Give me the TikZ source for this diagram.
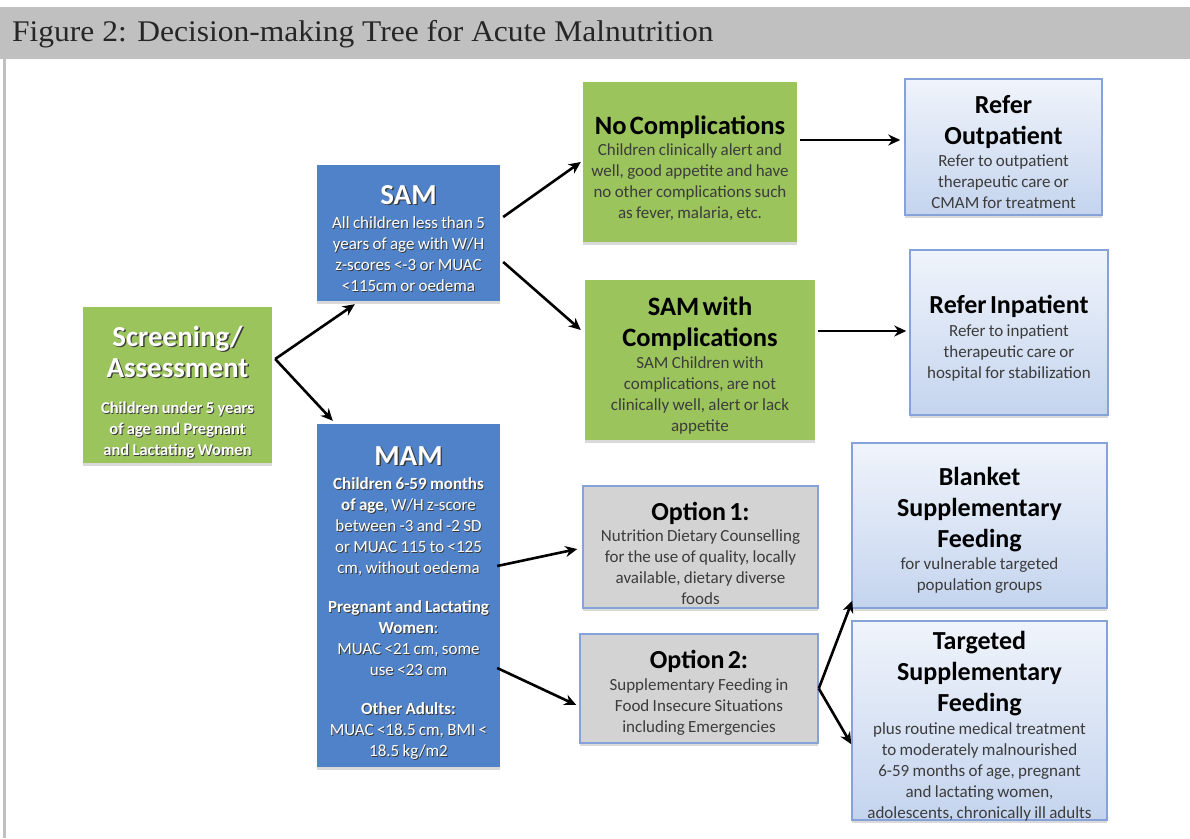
\documentclass[tikz,border=0pt]{standalone}
\usepackage{fontspec}
\usepackage{graphicx}
\setmainfont{Carlito}
\newfontfamily\titlefont{Liberation Serif}
\usetikzlibrary{arrows.meta,shadows,calc}
\definecolor{hdrgray}{HTML}{C0C0C0}
\definecolor{gboxc}{HTML}{9CC45D}
\definecolor{bboxc}{HTML}{4F82C8}
\definecolor{lbtop}{HTML}{F0F4FB}
\definecolor{lbbot}{HTML}{C4D4EE}
\definecolor{lbedge}{HTML}{86A2D8}
\definecolor{optfill}{HTML}{D3D3D3}
\definecolor{darktxt}{HTML}{3C3C3C}
\definecolor{shadc}{HTML}{3A3A3A}
\newcommand\HdF[1]{\fontsize{#1}{31}\selectfont\bfseries}
\newcommand\BdF{\fontsize{17}{21}\selectfont}
% negative space at the end of a node text moves the text down by half of it
\newcommand\LowerBy[1]{\par\vspace{-#1}}
% white text with a soft dark shadow
\newcommand\sh[1]{\leavevmode\rlap{\kern0.9pt\raisebox{-0.9pt}{\textcolor{shadc}{#1}}}#1}
\newcommand\shb[1]{\leavevmode\rlap{\kern1.4pt\raisebox{-1.4pt}{\textcolor{shadc}{#1}}}#1}
\tikzset{
  basebox/.style={inner sep=0pt, align=center,
    drop shadow={shadow xshift=0pt, shadow yshift=-3pt, opacity=0.15, fill=black}},
  greenbox/.style={basebox, fill=gboxc, text=white},
  bluebox/.style={basebox, fill=bboxc, text=white},
  lightbox/.style={basebox, draw=lbedge, line width=1.5pt, top color=lbtop, bottom color=lbbot, text=black},
  optbox/.style={basebox, draw=lbedge, line width=1.5pt, fill=optfill, text=black},
  flow/.style={-{Stealth[length=12pt,width=11pt]}, line width=2.6pt, black},
}
\begin{document}
\begin{tikzpicture}[x=1pt,y=-1pt]
\useasboundingbox (0,0) rectangle (1190,838);
\fill[white] (0,0) rectangle (1190,838);
\fill[hdrgray] (0,7) rectangle (1190,59);
\fill[hdrgray] (3,59) rectangle (6,838);
\node[anchor=base west, inner sep=0pt, text=black!85, font=\titlefont\fontsize{30}{30}\selectfont] (title) at (12,41) {\scalebox{1.05}[1]{Figure 2: Decision-making Tree for Acute Malnutrition}};

\node[greenbox, minimum width=189pt, minimum height=156pt, text width=187pt] (scr) at (177.5,385)
  {{\HdF{29}\shb{Screening/}\\\shb{Assessment}\par}\vspace{15pt}{\fontsize{16.5}{21}\selectfont\bfseries \sh{Children under 5 years}\\\sh{of age and Pregnant}\\\sh{and Lactating Women}\par}\LowerBy{15pt}};

\node[bluebox, minimum width=183pt, minimum height=136pt, text width=181pt] (sam) at (408.5,233)
  {{\HdF{29}\shb{SAM}\par}\vspace{3pt}{\BdF \sh{All children less than 5}\\\sh{years of age with W/H}\\\sh{z-scores <-3 or MUAC}\\\sh{<115cm or oedema}\par}\LowerBy{12pt}};

\node[bluebox, minimum width=183pt, minimum height=343pt, text width=181pt] (mam) at (408.5,595.5)
  {{\HdF{29}\shb{MAM}\par}\vspace{3pt}{\BdF \sh{\textbf{Children 6-59 months}}\\\sh{\textbf{of age}, W/H z-score}\\\sh{between -3 and -2 SD}\\\sh{or MUAC 115 to <125}\\\sh{cm, without oedema}\\[18pt]\sh{\textbf{Pregnant and Lactating}}\\\sh{\textbf{Women}:}\\\sh{MUAC <21 cm, some}\\\sh{use <23 cm}\\[18pt]\sh{\textbf{Other Adults:}}\\\sh{MUAC <18.5 cm, BMI <}\\\sh{18.5 kg/m2}\par}\LowerBy{16pt}};

\node[greenbox, text=black, minimum width=214pt, minimum height=160pt, text width=212pt] (nocomp) at (690,162)
  {{\HdF{26.5}No Complications\par}{\BdF\color{darktxt}Children clinically alert and\\well, good appetite and have\\no other complications such\\as fever, malaria, etc.\par}\LowerBy{12pt}};

\node[greenbox, text=black, minimum width=230pt, minimum height=160pt, text width=228pt] (samc) at (700,360)
  {{\HdF{26.5}SAM with\\Complications\par}\vspace{1pt}{\BdF\color{darktxt}SAM Children with\\complications, are not\\clinically well, alert or lack\\appetite\par}\LowerBy{12pt}};

\node[lightbox, minimum width=197pt, minimum height=136pt, text width=195pt] (refout) at (1003.5,147)
  {{\HdF{26}Refer\\Outpatient\par}\vspace{1pt}{\BdF\color{darktxt}Refer to outpatient\\therapeutic care or\\CMAM for treatment\par}\LowerBy{10pt}};

\node[lightbox, minimum width=198pt, minimum height=165pt, text width=196pt] (refin) at (1009,332.5)
  {{\HdF{26}Refer Inpatient\par}\vspace{2pt}{\BdF\color{darktxt}Refer to inpatient\\therapeutic care or\\hospital for stabilization\par}\LowerBy{12pt}};

\node[optbox, minimum width=235pt, minimum height=122pt, text width=233pt] (opt1) at (700.5,547)
  {{\HdF{26}Option 1:\par}{\BdF\color{darktxt}Nutrition Dietary Counselling\\for the use of quality, locally\\available, dietary diverse\\foods\par}\LowerBy{12pt}};

\node[optbox, minimum width=238pt, minimum height=109pt, text width=236pt] (opt2) at (699,688.5)
  {{\HdF{26}Option 2:\par}\vspace{1pt}{\BdF\color{darktxt}Supplementary Feeding in\\Food Insecure Situations\\including Emergencies\par}\LowerBy{8pt}};

\node[lightbox, minimum width=255pt, minimum height=165pt, text width=253pt] (blanket) at (979.5,525.5)
  {{\HdF{26}Blanket\\Supplementary\\Feeding\par}\vspace{1pt}{\BdF\color{darktxt}for vulnerable targeted\\population groups\par}\LowerBy{10pt}};

\node[lightbox, minimum width=255pt, minimum height=199pt, text width=253pt] (targeted) at (979.5,720.5)
  {{\HdF{26}Targeted\\Supplementary\\Feeding\par}\vspace{2pt}{\BdF\color{darktxt}plus routine medical treatment\\to moderately malnourished\\6-59 months of age, pregnant\\and lactating women,\\adolescents, chronically ill adults\par}\LowerBy{11pt}};

\draw[flow] ($(scr.east)+(3,-26)$) -- ($(sam.south west)+(38,3)$);
\draw[flow] ($(scr.east)+(3,-26)$) -- ($(mam.north west)+(16,-3)$);
\draw[flow] ($(sam.east)+(3,-16)$) -- ($(nocomp.west)+(-2,0)$);
\draw[flow] ($(sam.east)+(3,29)$) -- ($(samc.west)+(-4,-30)$);
\draw[flow] ($(nocomp.east)+(3,-22)$) -- ($(refout.west)+(-4,-7)$);
\draw[flow] ($(samc.east)+(3,-29)$) -- ($(refin.west)+(-3,-1.5)$);
\draw[flow] ($(mam.east)+(-3,-29.5)$) -- ($(opt1.west)+(-5,2)$);
\draw[flow] ($(mam.east)+(-3,72.5)$) -- ($(opt2.west)+(-3,16.5)$);
\draw[flow] ($(opt2.east)+(0,0)$) -- ($(blanket.south west)+(1,-8)$);
\draw[flow] ($(opt2.east)+(0,0)$) -- ($(targeted.north west)+(0,124)$);
\end{tikzpicture}
\end{document}
